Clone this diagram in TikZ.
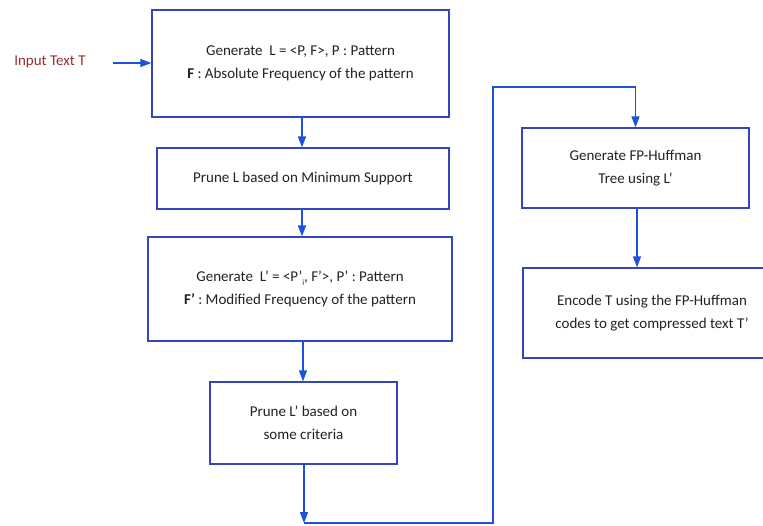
\documentclass[tikz,border=0pt]{standalone}
\usepackage{fontspec}
\setmainfont{Carlito}
\usetikzlibrary{arrows.meta}
\definecolor{boxblue}{HTML}{3446BE}
\definecolor{arrblue}{HTML}{1E50E0}
\definecolor{inred}{HTML}{9E2B2B}
\definecolor{txt}{HTML}{222222}
\tikzset{
  procbox/.style={draw=boxblue, line width=1.3pt, inner sep=0pt, align=center,
    text=txt, font=\fontsize{15}{23}\selectfont, anchor=center},
  arr/.style={draw=arrblue, line width=1.4pt, -{Triangle[width=8pt,length=11pt]}},
  wire/.style={draw=arrblue, line width=1.4pt},
}
\begin{document}
\begin{tikzpicture}[x=1pt,y=-1pt]
\useasboundingbox[fill=white] (0,0) rectangle (763,525);
\node[text=inred, font=\fontsize{15}{18}\selectfont, inner sep=0pt] (in) at (50,62) {Input Text T};
\coordinate (inA) at (113,63);
\node[procbox, minimum width=297pt, minimum height=107pt] (b1) at (300.5,63.5)
  {Generate\ \ L = <P, F>, P : Pattern\\ \textbf{F} : Absolute Frequency of the pattern};
\node[procbox, minimum width=292pt, minimum height=61pt] (b2) at (303,178.5)
  {Prune L based on Minimum Support};
\node[procbox, minimum width=304pt, minimum height=104pt] (b3) at (300,289)
  {Generate\ \ L’ = <P’\raisebox{-0.5ex}{\fontsize{8}{8}\selectfont i}, F’>, P’ : Pattern\\ \textbf{F’} : Modified Frequency of the pattern};
\node[procbox, minimum width=187pt, minimum height=82pt] (b4) at (303.5,423)
  {Prune L’ based on\\ some criteria};
\node[procbox, minimum width=227pt, minimum height=80pt] (b5) at (635.5,168)
  {Generate FP-Huffman\\ Tree using L’};
\node[procbox, minimum width=258pt, minimum height=90pt] (b6) at (652,313)
  {Encode T using the FP-Huffman\\ codes to get compressed text T’};
\coordinate (c1) at (304,523);
\coordinate (c2) at (493,523);
\coordinate (c3) at (493,87);
\coordinate (c4) at (635.5,87);
\draw[arr] (inA) -- (inA -| b1.west);
\draw[arr] (302,117) coordinate (s1) -- (s1 |- b2.north);
\draw[arr] (302,209) coordinate (s2) -- (s2 |- b3.north);
\draw[arr] (303,341) coordinate (s3) -- (s3 |- b4.north);
\draw[arr] (b4.south -| c1) -- (c1);
\draw[wire] (c1) -- (c2) -- (c3) -- (c4);
\draw[arr] (c4) -- (b5.north);
\draw[arr] (637,208) coordinate (s5) -- (s5 |- b6.north);
\end{tikzpicture}
\end{document}
